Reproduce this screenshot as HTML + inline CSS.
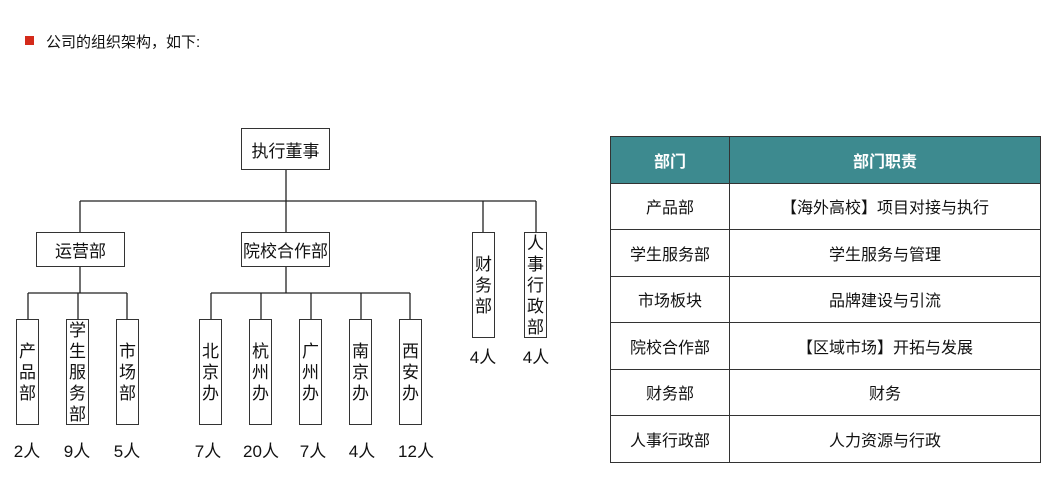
<!DOCTYPE html>
<html><head><meta charset="utf-8"><style>
body{margin:0;width:1049px;height:480px;background:#fff;position:relative;overflow:hidden;font-family:"Liberation Sans","Noto Sans CJK SC",sans-serif;color:#111}
.a{position:absolute}
.b{position:absolute;border:1px solid #333;box-sizing:border-box;background:#fff;display:flex;align-items:center;justify-content:center;font-size:17px}
.v{position:absolute;border:1px solid #333;box-sizing:border-box;background:#fff;display:flex;align-items:center;justify-content:center;font-size:17px;line-height:21px;text-align:center;width:23px;overflow:visible}
.l{position:absolute;font-size:17px;width:50px;text-align:center;line-height:20px}
table{position:absolute;left:610px;top:136px;border-collapse:collapse;width:431px;height:326px;font-size:16px}
tr{height:46.5px}
td,th{border:1.5px solid #333;text-align:center;padding:0}
th{background:#3d8a8f;color:#fff;font-weight:bold}
</style></head><body>
<div class="a" style="left:25px;top:36px;width:9px;height:9px;background:#d42a1a"></div>
<div class="a" style="left:46px;top:31px;font-size:15px">公司的组织架构，如下:</div>
<svg class="a" style="left:0;top:0" width="600" height="480">
<g stroke="#222" stroke-width="1.3" fill="none">
<line x1="286" y1="169" x2="286" y2="232"/>
<line x1="80" y1="201" x2="536" y2="201"/>
<line x1="80" y1="201" x2="80" y2="232"/>
<line x1="483" y1="201" x2="483" y2="232"/>
<line x1="536" y1="201" x2="536" y2="232"/>
<line x1="80" y1="266" x2="80" y2="293"/>
<line x1="28" y1="293" x2="127" y2="293"/>
<line x1="28" y1="293" x2="28" y2="319"/>
<line x1="78" y1="293" x2="78" y2="319"/>
<line x1="127" y1="293" x2="127" y2="319"/>
<line x1="286" y1="266" x2="286" y2="293"/>
<line x1="211" y1="293" x2="410" y2="293"/>
<line x1="211" y1="293" x2="211" y2="319"/>
<line x1="261" y1="293" x2="261" y2="319"/>
<line x1="311" y1="293" x2="311" y2="319"/>
<line x1="361" y1="293" x2="361" y2="319"/>
<line x1="410" y1="293" x2="410" y2="319"/>
</g></svg>
<div class="b" style="left:241px;top:128px;width:89px;height:42px">执行董事</div>
<div class="b" style="left:36px;top:232px;width:89px;height:35px">运营部</div>
<div class="b" style="left:241px;top:232px;width:89px;height:35px">院校合作部</div>
<div class="v" style="left:472px;top:232px;height:106px">财<br>务<br>部</div>
<div class="v" style="left:524px;top:232px;height:106px">人<br>事<br>行<br>政<br>部</div>
<div class="l" style="left:458px;top:348px">4人</div>
<div class="l" style="left:511px;top:348px">4人</div>
<div class="v" style="left:16px;top:319px;height:106px">产<br>品<br>部</div>
<div class="v" style="left:66px;top:319px;height:106px">学<br>生<br>服<br>务<br>部</div>
<div class="v" style="left:116px;top:319px;height:106px">市<br>场<br>部</div>
<div class="v" style="left:199px;top:319px;height:106px">北<br>京<br>办</div>
<div class="v" style="left:249px;top:319px;height:106px">杭<br>州<br>办</div>
<div class="v" style="left:299px;top:319px;height:106px">广<br>州<br>办</div>
<div class="v" style="left:349px;top:319px;height:106px">南<br>京<br>办</div>
<div class="v" style="left:399px;top:319px;height:106px">西<br>安<br>办</div>
<div class="l" style="left:2px;top:442px">2人</div>
<div class="l" style="left:52px;top:442px">9人</div>
<div class="l" style="left:102px;top:442px">5人</div>
<div class="l" style="left:183px;top:442px">7人</div>
<div class="l" style="left:236px;top:442px">20人</div>
<div class="l" style="left:288px;top:442px">7人</div>
<div class="l" style="left:337px;top:442px">4人</div>
<div class="l" style="left:391px;top:442px">12人</div>
<table>
<tr><th style="width:118px">部门</th><th>部门职责</th></tr>
<tr><td>产品部</td><td>【海外高校】项目对接与执行</td></tr>
<tr><td>学生服务部</td><td>学生服务与管理</td></tr>
<tr><td>市场板块</td><td>品牌建设与引流</td></tr>
<tr><td>院校合作部</td><td>【区域市场】开拓与发展</td></tr>
<tr><td>财务部</td><td>财务</td></tr>
<tr><td>人事行政部</td><td>人力资源与行政</td></tr>
</table>
</body></html>
